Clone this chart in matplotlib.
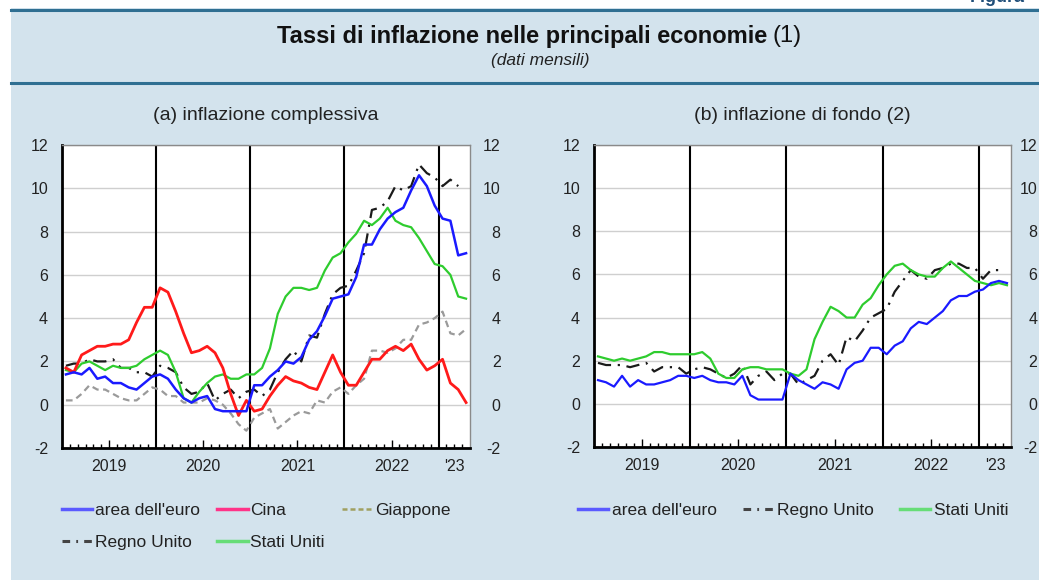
import numpy as np
import matplotlib
matplotlib.use("Agg")
import matplotlib.pyplot as plt
from matplotlib.lines import Line2D
from matplotlib.patches import Rectangle

plt.rcParams['font.family'] = ['Liberation Sans', 'DejaVu Sans']
plt.rcParams['axes.unicode_minus'] = False

# monthly data, Jan 2019 -> Apr 2023
# (a) headline inflation
euro_tot = [1.4, 1.5, 1.4, 1.7, 1.2, 1.3, 1.0, 1.0, 0.8, 0.7, 1.0, 1.3,
            1.4, 1.2, 0.7, 0.3, 0.1, 0.3, 0.4, -0.2, -0.3, -0.3, -0.3, -0.3,
            0.9, 0.9, 1.3, 1.6, 2.0, 1.9, 2.2, 3.0, 3.4, 4.1, 4.9, 5.0,
            5.1, 5.9, 7.4, 7.4, 8.1, 8.6, 8.9, 9.1, 9.9, 10.6, 10.1, 9.2,
            8.6, 8.5, 6.9, 7.0]
cina_tot = [1.7, 1.5, 2.3, 2.5, 2.7, 2.7, 2.8, 2.8, 3.0, 3.8, 4.5, 4.5,
            5.4, 5.2, 4.3, 3.3, 2.4, 2.5, 2.7, 2.4, 1.7, 0.5, -0.5, 0.2,
            -0.3, -0.2, 0.4, 0.9, 1.3, 1.1, 1.0, 0.8, 0.7, 1.5, 2.3, 1.5,
            0.9, 0.9, 1.5, 2.1, 2.1, 2.5, 2.7, 2.5, 2.8, 2.1, 1.6, 1.8,
            2.1, 1.0, 0.7, 0.1]
giap_tot = [0.2, 0.2, 0.5, 0.9, 0.7, 0.7, 0.5, 0.3, 0.2, 0.2, 0.5, 0.8,
            0.7, 0.4, 0.4, 0.1, 0.1, 0.1, 0.3, 0.2, 0.0, -0.4, -0.9, -1.2,
            -0.6, -0.4, -0.2, -1.1, -0.8, -0.5, -0.3, -0.4, 0.2, 0.1, 0.6, 0.8,
            0.5, 0.9, 1.2, 2.5, 2.5, 2.4, 2.6, 3.0, 3.0, 3.7, 3.8, 4.0,
            4.3, 3.3, 3.2, 3.5]
uk_tot = [1.8, 1.9, 1.9, 2.1, 2.0, 2.0, 2.1, 1.7, 1.7, 1.5, 1.5, 1.3,
          1.8, 1.7, 1.5, 0.8, 0.5, 0.6, 1.0, 0.2, 0.5, 0.7, 0.3, 0.6,
          0.7, 0.4, 0.7, 1.5, 2.1, 2.5, 2.0, 3.2, 3.1, 4.2, 5.1, 5.4,
          5.5, 6.2, 7.0, 9.0, 9.1, 9.4, 10.1, 9.9, 10.1, 11.1, 10.7, 10.5,
          10.1, 10.4, 10.1]
usa_tot = [1.6, 1.5, 1.9, 2.0, 1.8, 1.6, 1.8, 1.7, 1.7, 1.8, 2.1, 2.3,
           2.5, 2.3, 1.5, 0.3, 0.1, 0.6, 1.0, 1.3, 1.4, 1.2, 1.2, 1.4,
           1.4, 1.7, 2.6, 4.2, 5.0, 5.4, 5.4, 5.3, 5.4, 6.2, 6.8, 7.0,
           7.5, 7.9, 8.5, 8.3, 8.6, 9.1, 8.5, 8.3, 8.2, 7.7, 7.1, 6.5,
           6.4, 6.0, 5.0, 4.9]

# (b) core inflation
euro_core = [1.1, 1.0, 0.8, 1.3, 0.8, 1.1, 0.9, 0.9, 1.0, 1.1, 1.3, 1.3,
             1.2, 1.3, 1.1, 1.0, 1.0, 0.9, 1.3, 0.4, 0.2, 0.2, 0.2, 0.2,
             1.4, 1.1, 0.9, 0.7, 1.0, 0.9, 0.7, 1.6, 1.9, 2.0, 2.6, 2.6,
             2.3, 2.7, 2.9, 3.5, 3.8, 3.7, 4.0, 4.3, 4.8, 5.0, 5.0, 5.2,
             5.3, 5.6, 5.7, 5.6]
uk_core = [1.9, 1.8, 1.8, 1.8, 1.7, 1.8, 1.9, 1.5, 1.7, 1.7, 1.7, 1.4,
           1.6, 1.7, 1.6, 1.4, 1.2, 1.4, 1.8, 0.9, 1.3, 1.5, 1.1, 1.4,
           1.4, 0.9, 1.1, 1.3, 2.0, 2.3, 1.8, 3.1, 2.9, 3.4, 4.0, 4.2,
           4.4, 5.2, 5.7, 6.2, 5.9, 5.8, 6.2, 6.3, 6.5, 6.5, 6.3, 6.3,
           5.8, 6.2, 6.2]
usa_core = [2.2, 2.1, 2.0, 2.1, 2.0, 2.1, 2.2, 2.4, 2.4, 2.3, 2.3, 2.3,
            2.3, 2.4, 2.1, 1.4, 1.2, 1.2, 1.6, 1.7, 1.7, 1.6, 1.6, 1.6,
            1.4, 1.3, 1.6, 3.0, 3.8, 4.5, 4.3, 4.0, 4.0, 4.6, 4.9, 5.5,
            6.0, 6.4, 6.5, 6.2, 6.0, 5.9, 5.9, 6.3, 6.6, 6.3, 6.0, 5.7,
            5.6, 5.5, 5.6, 5.5]

year_pos = [6, 18, 30, 42, 50]
year_labels = ['2019', '2020', '2021', '2022', "'23"]
year_breaks = [12, 24, 36, 48]
n_months = 52

W, H = 1039, 580
fig = plt.figure(figsize=(W / 100, H / 100), dpi=100, facecolor='white')

# light blue panel with the two rules around the heading
fig.patches.append(Rectangle((11 / W, 0), 1 - 11 / W, 1 - 8 / H, transform=fig.transFigure,
                             facecolor='#d3e3ed', edgecolor='none', zorder=-10))
for yy in [9.5, 83]:
    fig.add_artist(Line2D([11 / W, 1], [1 - yy / H] * 2, color='#2f6f92', lw=2.2))

fig.text(970 / W, 1 - 2 / H, 'Figura', fontsize=13, fontweight='bold', color='#1f4e79', va='baseline')
t1 = fig.text(0.5, 1 - 36 / H, 'Tassi di inflazione nelle principali economie', fontsize=17,
              fontweight='bold', ha='left', va='center', color='#111111')
t2 = fig.text(0.5, 1 - 36 / H, '(1)', fontsize=17, ha='left', va='center', color='#111111')
fig.text(540 / W, 1 - 61 / H, '(dati mensili)', fontsize=12.5, style='italic', ha='center', va='center',
         color='#222222')

txt_col = '#222222'


def style_axes(ax, title, rpad):
    ax.set_facecolor('white')
    ax.set_xlim(0, n_months)
    ax.set_ylim(-2, 12)
    ax.set_yticks(range(-2, 13, 2))
    ax.yaxis.grid(True, color='#cfcfcf', lw=1)
    ax.set_axisbelow(True)
    for v in year_breaks:
        ax.axvline(v, color='black', lw=1.5, zorder=1)
    ax.spines['left'].set_linewidth(2)
    ax.spines['bottom'].set_linewidth(2)
    for s in ['top', 'right']:
        ax.spines[s].set_linewidth(1)
        ax.spines[s].set_color('#8a8a8a')
    ax.set_xticks(year_pos)
    ax.set_xticklabels(year_labels)
    ax.set_xticks([m for m in range(1, n_months) if m not in year_breaks], minor=True)
    ax.tick_params(axis='x', which='major', direction='in', length=6, width=1, pad=8,
                   labelsize=11.5, labelcolor=txt_col)
    ax.tick_params(axis='x', which='minor', direction='in', length=3, width=1)
    ax.xaxis.get_major_ticks()[-1].tick1line.set_markersize(3)
    ax.tick_params(axis='y', length=0, pad=10, labelsize=11.5, labelcolor=txt_col)
    sec = ax.secondary_yaxis('right')
    sec.set_yticks(range(-2, 13, 2))
    sec.tick_params(length=0, pad=rpad, labelsize=11.5, labelcolor=txt_col)
    sec.spines['right'].set_visible(False)
    for lab in sec.get_yticklabels():
        lab.set_ha('right')
    ax.text(0.5, 1 + 30 / 303, title, transform=ax.transAxes, ha='center', va='center',
            fontsize=14, color=txt_col)


x = np.arange(n_months) + 0.5

# (a) inflazione complessiva
ax1 = fig.add_axes([62 / W, 1 - 448 / H, 408 / W, 303 / H])
style_axes(ax1, '(a) inflazione complessiva', 22)
ax1.plot(x[:len(giap_tot)], giap_tot, color='#9a9a9a', lw=1.6, ls=(0, (3, 2)), zorder=3)
ax1.plot(x[:len(uk_tot)], uk_tot, color='#1a1a1a', lw=1.6, ls=(0, (6, 3, 1, 3)), zorder=3)
ax1.plot(x[:len(usa_tot)], usa_tot, color='#2ecc2e', lw=1.6, zorder=4)
ax1.plot(x[:len(cina_tot)], cina_tot, color='#ff1a1a', lw=2.0, zorder=5)
ax1.plot(x[:len(euro_tot)], euro_tot, color='#1a1aff', lw=1.8, zorder=6)

# (b) inflazione di fondo
ax2 = fig.add_axes([594 / W, 1 - 447 / H, 417 / W, 302 / H])
style_axes(ax2, '(b) inflazione di fondo (2)', 19)
ax2.plot(x[:len(uk_core)], uk_core, color='#1a1a1a', lw=1.6, ls=(0, (6, 3, 1, 3)), zorder=3)
ax2.plot(x[:len(usa_core)], usa_core, color='#2ecc2e', lw=1.6, zorder=4)
ax2.plot(x[:len(euro_core)], euro_core, color='#1a1aff', lw=1.6, zorder=5)

# legends
h_euro = Line2D([], [], color='#5a5aff', lw=2.5)
h_cina = Line2D([], [], color='#ff3388', lw=2.5)
h_giap = Line2D([], [], color='#a0a060', lw=1.8, ls=(0, (2, 1.2)))
h_uk = Line2D([], [], color='#444444', lw=2.2, ls=(0, (2.5, 2, 0.6, 2)))
h_usa = Line2D([], [], color='#66dd77', lw=2.5)

fig.legend([h_euro, h_uk, h_cina, h_usa, h_giap],
           ["area dell'euro", 'Regno Unito', 'Cina', 'Stati Uniti', 'Giappone'],
           ncol=3, loc='upper left', bbox_to_anchor=(62 / W, 1 - 503 / H), frameon=False,
           fontsize=12.5, handlelength=1.75, handletextpad=0.15, columnspacing=1.0,
           labelspacing=0.95, borderpad=0, borderaxespad=0, labelcolor=txt_col)
fig.legend([h_euro, h_uk, h_usa],
           ["area dell'euro", 'Regno Unito', 'Stati Uniti'],
           ncol=3, loc='upper left', bbox_to_anchor=(578 / W, 1 - 503 / H), frameon=False,
           fontsize=12.5, handlelength=1.75, handletextpad=0.2, columnspacing=1.5,
           borderpad=0, borderaxespad=0, labelcolor=txt_col)

# centre the two-part heading on the page
fig.canvas.draw()
r = fig.canvas.get_renderer()
w1 = t1.get_window_extent(r).width
w2 = t2.get_window_extent(r).width
gap = 5
start = 539 - (w1 + gap + w2) / 2
t1.set_x(start / W)
t2.set_x((start + w1 + gap) / W)

fig.savefig('out.png', dpi=100, facecolor=fig.get_facecolor())
